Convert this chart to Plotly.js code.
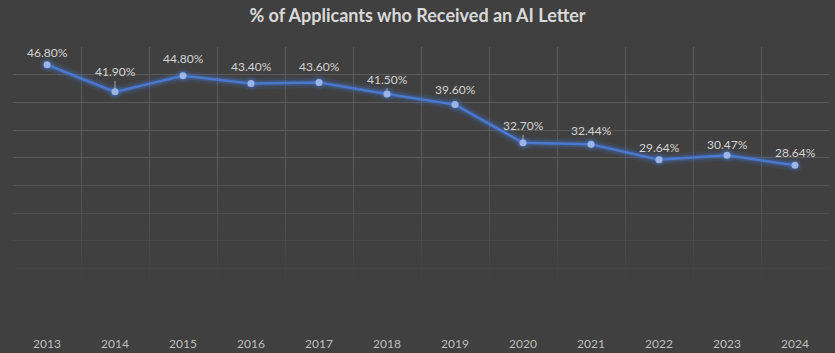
<!DOCTYPE html>
<html>
<head>
<meta charset="utf-8">
<script src="https://cdn.plot.ly/plotly-3.0.1.min.js"></script>
<style>html,body{margin:0;padding:0;background:#404040;}#chart{width:835px;height:353px;}</style>
</head>
<body>
<div id="chart"></div>
<script>
const years = ['2013','2014','2015','2016','2017','2018','2019','2020','2021','2022','2023','2024'];
const pctValues = [46.80, 41.90, 44.80, 43.40, 43.60, 41.50, 39.60, 32.70, 32.44, 29.64, 30.47, 28.64];
const valueLabels = ['46.80%','41.90%','44.80%','43.40%','43.60%','41.50%','39.60%','32.70%','32.44%','29.64%','30.47%','28.64%'];

// label placement (style only)
const labelOffsets = [12, 20, 17, 17, 16, 15, 15, 17, 14, 12, 11, 13];
const leaderLine = [false, true, false, false, false, true, false, true, false, false, false, false];

const BG = '#404040';
const xIdx = years.map((_, i) => i);

const fadeTrace = {
  x: [-0.5, 11.5, 11.5, -0.5, -0.5],
  y: [0, 0, 31, 31, 0],
  mode: 'lines', line: {width: 0}, fill: 'toself',
  fillcolor: 'rgba(64,64,64,0)',
  fillgradient: {type: 'vertical', start: 0, stop: 31,
    colorscale: [[0, 'rgba(64,64,64,1)'], [0.22, 'rgba(64,64,64,1)'], [1, 'rgba(64,64,64,0)']]},
  hoverinfo: 'skip', showlegend: false
};
const glow1 = {x: xIdx, y: pctValues, mode: 'lines+markers',
  line: {color: 'rgba(68,114,196,0.15)', width: 11}, marker: {size: 15, color: 'rgba(68,114,196,0.15)'},
  hoverinfo: 'skip', showlegend: false};
const glow2 = {x: xIdx, y: pctValues, mode: 'lines+markers',
  line: {color: 'rgba(68,114,196,0.3)', width: 6}, marker: {size: 10, color: 'rgba(68,114,196,0.3)'},
  hoverinfo: 'skip', showlegend: false};
const mainTrace = {x: xIdx, y: pctValues, mode: 'lines+markers',
  line: {color: '#4a78cf', width: 2.5}, marker: {size: 7, color: '#9cb4e6'},
  showlegend: false};

const annotations = xIdx.map(i => {
  const a = {x: i, y: pctValues[i], xref: 'x', yref: 'y', text: valueLabels[i],
    font: {family: 'Lato, "Open Sans", sans-serif', size: 12, color: '#d4d4d4'}};
  if (leaderLine[i]) {
    Object.assign(a, {showarrow: true, arrowhead: 0, arrowwidth: 1, arrowcolor: '#a6a6a6',
      ax: 0, ay: -labelOffsets[i], standoff: 3});
  } else {
    Object.assign(a, {showarrow: false, yshift: labelOffsets[i]});
  }
  return a;
});

const layout = {
  width: 835, height: 353,
  paper_bgcolor: BG, plot_bgcolor: BG,
  margin: {l: 13, r: 6, t: 47, b: 29},
  title: {text: '% of Applicants who Received an AI Letter', x: 0.5, xanchor: 'center', y: 0.955, yanchor: 'middle',
    font: {family: 'Lato, "Open Sans", sans-serif', size: 18, color: '#d9d9d9', weight: 'bold'}},
  xaxis: {range: [-0.5, 11.5], tickvals: xIdx, ticktext: years, showgrid: false, zeroline: false,
    ticks: 'outside', ticklen: 9, tickcolor: BG, showline: false,
    tickfont: {family: 'Lato, "Open Sans", sans-serif', size: 12, color: '#bfbfbf'},
    minor: {tick0: 0.5, dtick: 1, showgrid: true, gridcolor: '#5a5a5a', gridwidth: 1, ticks: ''}},
  yaxis: {range: [0, 50], dtick: 5, showgrid: true, gridcolor: '#5a5a5a', gridwidth: 1,
    showticklabels: false, zeroline: false, showline: false},
  annotations: annotations,
  showlegend: false
};

Plotly.newPlot('chart', [fadeTrace, glow1, glow2, mainTrace], layout, {displayModeBar: false, staticPlot: true});
</script>
</body>
</html>
